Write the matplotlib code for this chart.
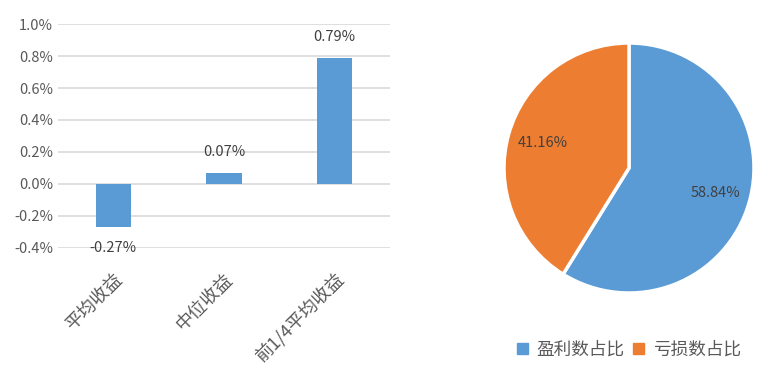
import matplotlib.pyplot as plt
import matplotlib.patches as patches
from matplotlib.ticker import FuncFormatter

plt.rcParams['font.family'] = ['Noto Sans CJK SC', 'DejaVu Sans']

## Bar chart data
bar_labels = ['平均收益', '中位收益', '前1/4平均收益']
bar_values = [-0.27, 0.07, 0.79]

## Pie data
pie_labels = ['盈利数占比', '亏损数占比']
pie_values = [58.84, 41.16]

blue = '#5B9BD5'
orange = '#ED7D31'
grey = '#595959'
W, H = 766, 366

fig = plt.figure(figsize=(W/100, H/100), dpi=100)

## Left: bars
ax = fig.add_axes([58/W, 1-248/H, 332/W, 224/H])
x = range(len(bar_values))
ax.bar(x, bar_values, width=0.32, color=blue, zorder=3)
ax.set_xlim(-0.5, 2.5)
ax.set_ylim(-0.4, 1.0)
ax.set_yticks([-0.4, -0.2, 0.0, 0.2, 0.4, 0.6, 0.8, 1.0])
ax.yaxis.set_major_formatter(FuncFormatter(lambda v, p: f'{v:.1f}%'))
ax.grid(axis='y', color='#d9d9d9', linewidth=1.2, zorder=0)
for s in ax.spines.values(): s.set_visible(False)
ax.tick_params(axis='both', length=0, colors=grey, labelsize=10.5)
ax.set_xticks(list(x))
ax.set_xticklabels(bar_labels, rotation=45, ha='right', rotation_mode='anchor', fontsize=13)
ax.tick_params(axis='x', pad=16)
for xi, v in zip(x, bar_values):
    off = 10 if v >= 0 else -10
    ax.annotate(f'{v:.2f}%', (xi, v), xytext=(0, off), textcoords='offset points',
                ha='center', va='bottom' if v >= 0 else 'top', color='#404040', fontsize=10.5)

## Right: pie
cx, cy, r = 629, 168, 125
ax2 = fig.add_axes([(cx-r)/W, 1-(cy+r)/H, 2*r/W, 2*r/H])
wedges, _, autotexts = ax2.pie(pie_values, colors=[blue, orange], startangle=90, counterclock=False,
                               autopct=lambda p: f'{p:.2f}%', pctdistance=0.72, radius=1.0,
                               wedgeprops=dict(edgecolor='white', linewidth=2.5))
for t in autotexts:
    t.set_color('#404040')
    t.set_fontsize(10.5)
ax2.set_xlim(-1.0, 1.0)
ax2.set_ylim(-1.0, 1.0)

handles = [patches.Patch(color=c) for c in [blue, orange]]
fig.legend(handles, pie_labels, loc='center', bbox_to_anchor=(629/W, 1-350/H), ncol=2,
           frameon=False, fontsize=12.7, handlelength=0.6, handleheight=0.6,
           handletextpad=0.5, columnspacing=0.5, labelcolor=grey)

fig.savefig('out.png', dpi=100)
